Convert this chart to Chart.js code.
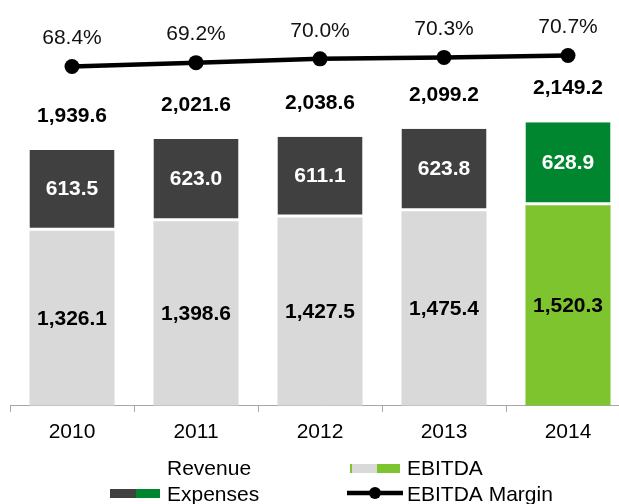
<!DOCTYPE html>
<html>
<head>
<meta charset="utf-8">
<script src="https://cdn.jsdelivr.net/npm/chart.js@4.4.1/dist/chart.umd.min.js"></script>
<style>
  html, body { margin: 0; padding: 0; background: #fff; }
  #wrap { position: relative; width: 619px; height: 504px; overflow: hidden; }
  canvas { position: absolute; left: 0; top: 0; }
</style>
</head>
<body>
<div id="wrap"><canvas id="c" width="640" height="504"></canvas></div>
<script>
const categories = ['2010', '2011', '2012', '2013', '2014'];
const ebitda = [1326.1, 1398.6, 1427.5, 1475.4, 1520.3];
const expenses = [613.5, 623.0, 611.1, 623.8, 628.9];
const revenue = [1939.6, 2021.6, 2038.6, 2099.2, 2149.2];
const margin = [68.4, 69.2, 70.0, 70.3, 70.7];

const ebitdaColors = ['#D9D9D9', '#D9D9D9', '#D9D9D9', '#D9D9D9', '#7DC42F'];
const expenseColors = ['#404040', '#404040', '#404040', '#404040', '#00862F'];

const FONT = '"Liberation Sans", Arial, sans-serif';

function fmt(v) {
  return v.toLocaleString('en-US', { minimumFractionDigits: 1, maximumFractionDigits: 1 });
}

const labelPlugin = {
  id: 'labels',
  afterDatasetsDraw(chart) {
    const ctx = chart.ctx;
    ctx.save();
    ctx.textAlign = 'center';
    ctx.textBaseline = 'middle';
    const m0 = chart.getDatasetMeta(0);
    const m1 = chart.getDatasetMeta(1);
    const m2 = chart.getDatasetMeta(2);
    ctx.font = 'bold 21px ' + FONT;
    m0.data.forEach((el, i) => {
      ctx.fillStyle = '#000';
      ctx.fillText(fmt(ebitda[i]), el.x, (el.y + el.base) / 2 + 1);
    });
    m1.data.forEach((el, i) => {
      ctx.fillStyle = '#fff';
      ctx.fillText(fmt(expenses[i]), el.x, (el.y + el.base) / 2 - 1);
      ctx.fillStyle = '#000';
      ctx.fillText(fmt(revenue[i]), el.x, el.y - 34);
    });
    ctx.font = '21px ' + FONT;
    ctx.fillStyle = '#111';
    m2.data.forEach((el, i) => {
      ctx.fillText(margin[i].toFixed(1) + '%', el.x, el.y - 28);
    });
    ctx.restore();
  },
  afterDraw(chart) {
    const ctx = chart.ctx;
    ctx.save();
    ctx.textAlign = 'left';
    ctx.textBaseline = 'middle';
    ctx.font = '21px ' + FONT;
    ctx.fillStyle = '#000';
    // Row 1
    ctx.fillText('Revenue', 167, 469);
    ctx.fillStyle = '#D9D9D9';
    ctx.fillRect(352, 464, 25, 9);
    ctx.fillStyle = ebitdaColors[4];
    ctx.fillRect(350, 464, 2, 9);
    ctx.fillRect(377, 464, 23, 9);
    ctx.fillStyle = '#000';
    ctx.fillText('EBITDA', 407, 469);
    // Row 2
    ctx.fillStyle = expenseColors[0];
    ctx.fillRect(110, 489, 26, 9);
    ctx.fillStyle = expenseColors[4];
    ctx.fillRect(136, 489, 24, 9);
    ctx.fillStyle = '#000';
    ctx.fillText('Expenses', 167, 495);
    ctx.strokeStyle = '#000';
    ctx.lineWidth = 4.5;
    ctx.beginPath();
    ctx.moveTo(347, 493);
    ctx.lineTo(403, 493);
    ctx.stroke();
    ctx.beginPath();
    ctx.arc(375, 493, 6, 0, Math.PI * 2);
    ctx.fill();
    ctx.fillText('EBITDA Margin', 407, 495);
    ctx.restore();
  }
};

new Chart(document.getElementById('c'), {
  data: {
    labels: categories,
    datasets: [
      {
        type: 'bar',
        label: 'EBITDA',
        data: ebitda,
        backgroundColor: ebitdaColors,
        borderWidth: 0,
        stack: 's',
        order: 2,
        barPercentage: 0.686,
        categoryPercentage: 1.0
      },
      {
        type: 'bar',
        label: 'Expenses',
        data: expenses,
        backgroundColor: expenseColors,
        borderColor: '#ffffff',
        borderWidth: { top: 0, left: 0, right: 0, bottom: 3 },
        borderSkipped: false,
        stack: 's',
        order: 2,
        barPercentage: 0.686,
        categoryPercentage: 1.0
      },
      {
        type: 'line',
        label: 'EBITDA Margin',
        data: margin,
        yAxisID: 'y2',
        borderColor: '#000',
        backgroundColor: '#000',
        borderWidth: 4.5,
        pointRadius: 7.5,
        pointBackgroundColor: '#000',
        pointBorderWidth: 0,
        tension: 0,
        order: 0,
        clip: false
      }
    ]
  },
  options: {
    responsive: false,
    animation: false,
    devicePixelRatio: 1,
    layout: { padding: { left: 10, right: 10, top: 10, bottom: 51 } },
    plugins: { legend: { display: false }, tooltip: { enabled: false } },
    scales: {
      x: {
        stacked: true,
        grid: { display: true, drawOnChartArea: false, drawTicks: true, tickLength: 6, color: '#A6A6A6', offset: true },
        border: { display: true, color: '#A6A6A6', width: 1 },
        ticks: { color: '#000', font: { family: FONT, size: 21 }, padding: 8, maxRotation: 0 }
      },
      y: {
        stacked: true,
        display: false,
        min: 0,
        max: 3000
      },
      y2: {
        display: false,
        position: 'right',
        min: -2.63,
        max: 80.22
      }
    }
  },
  plugins: [labelPlugin]
});
</script>
</body>
</html>
